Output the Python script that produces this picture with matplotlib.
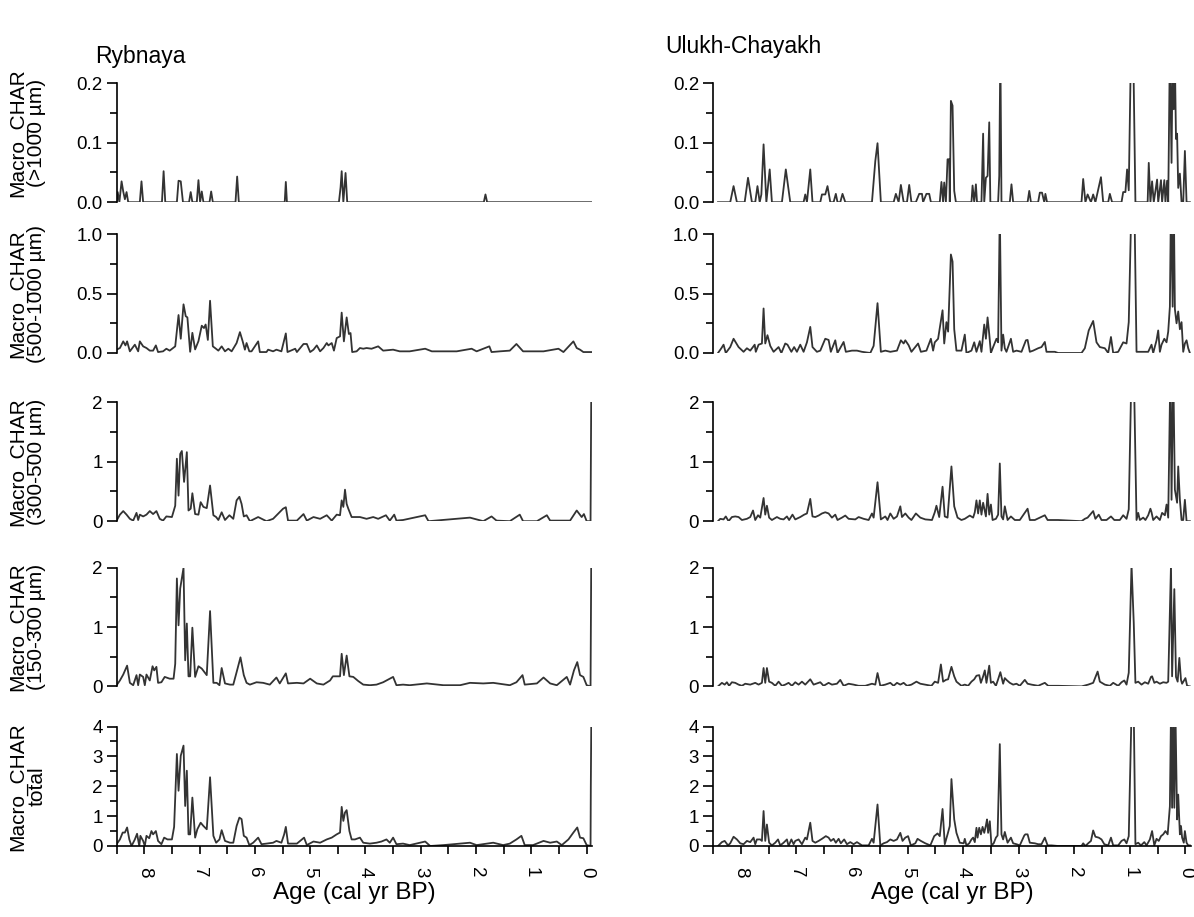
# Macro charcoal accumulation records, Rybnaya and Ulukh-Chayakh

import matplotlib
matplotlib.use('Agg')
import matplotlib.pyplot as plt
from matplotlib.ticker import MultipleLocator, FormatStrFormatter

plt.rcParams['font.family'] = ['Liberation Sans', 'DejaVu Sans']

# ---------------- Rybnaya ----------------
ryb_1000_age = [8.50, 8.48, 8.45, 8.41, 8.38, 8.35, 8.32, 8.29, 8.08, 8.05, 8.02, 7.68, 7.65, 7.62,
                7.41, 7.38, 7.34, 7.30, 7.19, 7.16, 7.13, 7.05, 7.02, 6.99, 6.96, 6.93, 6.82, 6.79,
                6.76, 6.35, 6.32, 6.29, 5.46, 5.44, 5.42, 4.48, 4.45, 4.43, 4.40, 4.36, 4.33,
                1.86, 1.83, 1.80, -0.08]
ryb_1000_val = [0, 0.017, 0, 0.035, 0.018, 0.005, 0.017, 0, 0, 0.035, 0, 0, 0.052, 0,
                0, 0.036, 0.035, 0, 0, 0.017, 0, 0, 0.037, 0, 0.018, 0, 0, 0.018,
                0, 0, 0.043, 0, 0, 0.034, 0, 0, 0.025, 0.052, 0, 0.049, 0,
                0, 0.013, 0, 0]

ryb_500_age = [8.50, 8.44, 8.38, 8.34, 8.31, 8.26, 8.17, 8.11, 8.08, 8.02, 7.96, 7.90, 7.84, 7.79,
               7.75, 7.66, 7.60, 7.54, 7.44, 7.38, 7.34, 7.29, 7.25, 7.22, 7.17, 7.13, 7.08, 7.02,
               6.96, 6.92, 6.89, 6.85, 6.81, 6.76, 6.72, 6.66, 6.60, 6.54, 6.48, 6.42, 6.33, 6.27,
               6.22, 6.18, 6.15, 6.10, 6.06, 5.94, 5.91, 5.79, 5.76, 5.67, 5.61, 5.52, 5.44, 5.41,
               5.27, 5.24, 5.12, 5.06, 5.00, 4.94, 4.88, 4.82, 4.76, 4.70, 4.67, 4.61, 4.57, 4.52,
               4.46, 4.43, 4.39, 4.34, 4.30, 4.27, 4.24, 4.16, 4.10, 4.04, 3.98, 3.89, 3.77, 3.68,
               3.50, 3.38, 3.20, 2.92, 2.80, 2.35, 2.08, 1.99, 1.76, 1.72, 1.57, 1.39, 1.27, 1.15,
               0.93, 0.78, 0.51, 0.42, 0.24, 0.18, 0.12, 0.06, -0.08]
ryb_500_val = [0.028, 0.042, 0.098, 0.064, 0.098, 0.014, 0.070, 0.014, 0.098, 0.056, 0.042, 0.020, 0.020, 0.064,
               0.008, 0.014, 0.036, 0.020, 0.056, 0.32, 0.12, 0.41, 0.31, 0.30, 0.01, 0.17, 0.03, 0.10,
               0.23, 0.21, 0.24, 0.11, 0.44, 0.056, 0.042, 0.020, 0.056, 0.014, 0.036, 0.014, 0.084, 0.176,
               0.098, 0.028, 0.084, 0.014, 0.014, 0.098, 0.008, 0.008, 0.028, 0.014, 0.028, 0.014, 0.165, 0.008,
               0.036, 0.008, 0.076, 0.076, 0.008, 0.028, 0.064, 0.014, 0.042, 0.084, 0.064, 0.084, 0.020, 0.126,
               0.140, 0.34, 0.098, 0.30, 0.160, 0.168, 0.008, 0.014, 0.042, 0.036, 0.042, 0.036, 0.056, 0.020,
               0.028, 0.014, 0.014, 0.036, 0.014, 0.014, 0.036, 0.014, 0.056, 0.008, 0.014, 0.020, 0.076, 0.014,
               0.014, 0.014, 0.036, 0.008, 0.098, 0.042, 0.028, 0.008, 0.008]

ryb_300_age = [8.50, 8.44, 8.38, 8.32, 8.26, 8.20, 8.14, 8.11, 8.08, 8.02, 7.96, 7.90, 7.84, 7.78,
               7.72, 7.66, 7.60, 7.50, 7.44, 7.41, 7.38, 7.35, 7.32, 7.28, 7.23, 7.20, 7.16, 7.13,
               7.08, 7.02, 6.98, 6.93, 6.87, 6.81, 6.75, 6.70, 6.66, 6.60, 6.54, 6.46, 6.39, 6.33,
               6.28, 6.24, 6.20, 6.15, 6.09, 5.94, 5.79, 5.67, 5.49, 5.44, 5.40, 5.24, 5.12, 5.06,
               4.94, 4.82, 4.70, 4.61, 4.52, 4.46, 4.43, 4.40, 4.37, 4.34, 4.31, 4.25, 4.10, 3.98,
               3.86, 3.77, 3.63, 3.56, 3.48, 3.44, 3.32, 2.92, 2.86, 2.11, 1.87, 1.72, 1.63, 1.39,
               1.21, 1.15, 0.90, 0.72, 0.66, 0.30, 0.18, 0.09, 0.05, 0.00, -0.07, -0.085]
ryb_300_val = [0.01, 0.11, 0.17, 0.11, 0.04, 0.01, 0.14, 0.02, 0.11, 0.08, 0.11, 0.17, 0.12, 0.17,
               0.04, 0.01, 0.08, 0.07, 0.26, 1.05, 0.43, 1.13, 1.18, 0.66, 1.16, 0.18, 0.21, 0.47,
               0.12, 0.11, 0.32, 0.24, 0.22, 0.60, 0.10, 0.07, 0.02, 0.15, 0.02, 0.10, 0.04, 0.35,
               0.41, 0.29, 0.08, 0.10, 0.00, 0.07, 0.00, 0.04, 0.21, 0.235, 0.01, 0.01, 0.12, 0.01,
               0.07, 0.04, 0.10, 0.01, 0.11, 0.10, 0.35, 0.24, 0.53, 0.29, 0.21, 0.07, 0.07, 0.04,
               0.07, 0.04, 0.10, 0.01, 0.11, 0.01, 0.02, 0.10, 0.00, 0.06, 0.00, 0.08, 0.01, 0.00,
               0.11, 0.00, 0.00, 0.10, 0.01, 0.01, 0.18, 0.07, 0.12, 0.00, 0.00, 2.5]

ryb_150_age = [8.50, 8.44, 8.38, 8.31, 8.26, 8.20, 8.14, 8.11, 8.08, 8.02, 7.99, 7.96, 7.90, 7.85,
               7.82, 7.78, 7.75, 7.69, 7.63, 7.54, 7.47, 7.44, 7.41, 7.38, 7.35, 7.29, 7.26, 7.23,
               7.20, 7.17, 7.13, 7.08, 7.02, 6.96, 6.87, 6.81, 6.75, 6.69, 6.64, 6.60, 6.54, 6.45,
               6.39, 6.33, 6.26, 6.20, 6.15, 6.09, 5.97, 5.85, 5.73, 5.61, 5.55, 5.44, 5.40, 5.24,
               5.12, 5.00, 4.88, 4.76, 4.64, 4.59, 4.52, 4.46, 4.43, 4.39, 4.34, 4.29, 4.22, 4.13,
               4.04, 3.92, 3.80, 3.68, 3.50, 3.44, 3.32, 3.20, 2.89, 2.59, 2.29, 2.11, 1.87, 1.69,
               1.39, 1.27, 1.16, 1.12, 0.90, 0.78, 0.66, 0.54, 0.36, 0.30, 0.23, 0.17, 0.12, 0.06,
               0.00, -0.07, -0.085]
ryb_150_val = [0.02, 0.10, 0.20, 0.35, 0.06, 0.02, 0.19, 0.02, 0.20, 0.16, 0.02, 0.20, 0.10, 0.34,
               0.27, 0.33, 0.06, 0.07, 0.16, 0.13, 0.13, 0.38, 1.82, 1.03, 1.65, 2.00, 0.44, 1.06,
               0.17, 0.17, 0.99, 0.16, 0.34, 0.30, 0.19, 1.27, 0.06, 0.06, 0.02, 0.31, 0.05, 0.03,
               0.03, 0.24, 0.49, 0.19, 0.06, 0.03, 0.07, 0.06, 0.03, 0.15, 0.05, 0.22, 0.05, 0.06,
               0.05, 0.13, 0.05, 0.03, 0.10, 0.17, 0.17, 0.17, 0.55, 0.19, 0.52, 0.17, 0.16, 0.09,
               0.03, 0.02, 0.03, 0.07, 0.16, 0.02, 0.03, 0.02, 0.05, 0.02, 0.02, 0.06, 0.05, 0.06,
               0.02, 0.07, 0.19, 0.03, 0.05, 0.15, 0.05, 0.02, 0.16, 0.03, 0.27, 0.41, 0.19, 0.16,
               0.02, 0.00, 2.5]

ryb_tot_age = [8.50, 8.44, 8.39, 8.35, 8.31, 8.27, 8.23, 8.17, 8.13, 8.09, 8.07, 8.02, 7.99, 7.96,
               7.91, 7.87, 7.84, 7.79, 7.75, 7.69, 7.64, 7.58, 7.50, 7.46, 7.41, 7.38, 7.34, 7.29,
               7.26, 7.23, 7.20, 7.17, 7.13, 7.08, 7.04, 6.98, 6.93, 6.87, 6.81, 6.75, 6.70, 6.64,
               6.60, 6.54, 6.45, 6.39, 6.33, 6.28, 6.24, 6.20, 6.15, 6.10, 6.03, 5.94, 5.88, 5.79,
               5.67, 5.61, 5.52, 5.47, 5.44, 5.40, 5.24, 5.11, 5.06, 4.94, 4.82, 4.70, 4.61, 4.52,
               4.46, 4.43, 4.40, 4.37, 4.34, 4.29, 4.25, 4.19, 4.10, 4.04, 3.92, 3.80, 3.71, 3.62,
               3.56, 3.50, 3.44, 3.32, 3.20, 2.92, 2.83, 2.59, 2.11, 1.99, 1.69, 1.51, 1.39, 1.27,
               1.18, 1.12, 0.97, 0.78, 0.66, 0.54, 0.45, 0.33, 0.24, 0.17, 0.12, 0.06, 0.00, -0.07,
               -0.075, -0.085]
ryb_tot_val = [0.06, 0.22, 0.45, 0.45, 0.62, 0.22, 0.00, 0.22, 0.41, 0.00, 0.34, 0.17, 0.00, 0.34,
               0.26, 0.50, 0.39, 0.50, 0.17, 0.06, 0.28, 0.22, 0.22, 0.64, 3.08, 1.85, 3.02, 3.36,
               1.34, 2.52, 0.39, 0.39, 1.62, 0.28, 0.56, 0.78, 0.67, 0.56, 2.30, 0.34, 0.11, 0.22,
               0.53, 0.17, 0.11, 0.11, 0.67, 0.95, 0.90, 0.34, 0.28, 0.03, 0.11, 0.28, 0.06, 0.08,
               0.11, 0.17, 0.11, 0.39, 0.64, 0.08, 0.08, 0.28, 0.03, 0.15, 0.11, 0.22, 0.28, 0.39,
               0.45, 1.31, 0.84, 1.12, 1.20, 0.50, 0.22, 0.22, 0.28, 0.11, 0.08, 0.11, 0.15, 0.22,
               0.11, 0.28, 0.06, 0.08, 0.03, 0.15, 0.00, 0.03, 0.11, 0.03, 0.11, 0.03, 0.08, 0.22,
               0.34, 0.03, 0.03, 0.17, 0.11, 0.15, 0.03, 0.22, 0.45, 0.62, 0.28, 0.26, 0.03, 0.00,
               2.0, 4.5]

# ---------------- Ulukh-Chayakh ----------------
ulu_1000_age = [8.41, 8.19, 8.13, 8.07, 7.93, 7.87, 7.80, 7.74, 7.70, 7.66, 7.63, 7.59, 7.54, 7.48,
                7.44, 7.26, 7.19, 7.11, 6.87, 6.84, 6.81, 6.75, 6.71, 6.57, 6.54, 6.48, 6.44, 6.39,
                6.33, 6.29, 6.26, 6.21, 6.17, 6.12, 5.64, 5.58, 5.54, 5.48, 5.25, 5.21, 5.16, 5.12,
                5.07, 5.01, 4.97, 4.93, 4.85, 4.79, 4.74, 4.72, 4.66, 4.61, 4.58, 4.42, 4.39, 4.36,
                4.34, 4.31, 4.28, 4.25, 4.24, 4.22, 4.19, 4.16, 4.13, 3.85, 3.83, 3.80, 3.77, 3.75,
                3.67, 3.64, 3.62, 3.59, 3.56, 3.53, 3.51, 3.37, 3.35, 3.33, 3.31, 3.16, 3.13, 3.10,
                2.84, 2.81, 2.78, 2.65, 2.62, 2.58, 2.54, 2.52, 2.49, 1.87, 1.84, 1.80, 1.76, 1.70,
                1.66, 1.62, 1.52, 1.48, 1.39, 1.36, 1.32, 1.15, 1.12, 1.08, 1.05, 1.02, 0.98, 0.94,
                0.90, 0.68, 0.66, 0.63, 0.60, 0.57, 0.51, 0.49, 0.44, 0.42, 0.38, 0.36, 0.33, 0.31,
                0.28, 0.25, 0.23, 0.21, 0.19, 0.17, 0.15, 0.13, 0.10, 0.07, 0.04, 0.01, -0.02, -0.08]
ulu_1000_val = [0, 0, 0.027, 0, 0, 0.041, 0, 0, 0.027, 0, 0.013, 0.097, 0, 0.055,
                0, 0, 0.055, 0, 0, 0.013, 0, 0.055, 0, 0, 0.013, 0.013, 0.027, 0,
                0, 0.014, 0, 0, 0.014, 0, 0, 0.069, 0.099, 0, 0, 0.014, 0, 0.029,
                0, 0, 0.029, 0, 0, 0.014, 0.014, 0, 0.014, 0.014, 0, 0, 0.034, 0,
                0.033, 0, 0.072, 0.072, 0, 0.17, 0.162, 0.019, 0, 0, 0.028, 0, 0.03, 0,
                0, 0.115, 0, 0.041, 0.044, 0.134, 0, 0, 0.044, 0.26, 0, 0, 0.03, 0,
                0, 0.019, 0, 0, 0.016, 0.016, 0, 0.014, 0, 0, 0.039, 0, 0.013, 0,
                0.013, 0, 0.042, 0, 0, 0.014, 0, 0, 0.017, 0.017, 0.055, 0.02, 0.26, 0.26,
                0, 0, 0.066, 0, 0.035, 0, 0.038, 0, 0.037, 0, 0.037, 0, 0.036, 0,
                0.26, 0.066, 0.26, 0.156, 0.24, 0.106, 0.115, 0.024, 0.048, 0, 0, 0.086, 0, 0]

ulu_500_age = [8.41, 8.35, 8.31, 8.27, 8.19, 8.13, 8.04, 7.95, 7.89, 7.83, 7.75, 7.73, 7.68, 7.62,
               7.59, 7.56, 7.52, 7.47, 7.41, 7.32, 7.27, 7.20, 7.16, 7.09, 7.04, 6.99, 6.93, 6.87,
               6.81, 6.75, 6.71, 6.63, 6.57, 6.48, 6.42, 6.38, 6.30, 6.26, 6.15, 6.11, 6.00, 5.91,
               5.82, 5.67, 5.61, 5.54, 5.48, 5.40, 5.31, 5.19, 5.12, 5.07, 5.04, 4.98, 4.93, 4.81,
               4.76, 4.66, 4.58, 4.54, 4.51, 4.45, 4.37, 4.34, 4.30, 4.27, 4.22, 4.19, 4.16, 4.12,
               4.03, 3.97, 3.94, 3.85, 3.80, 3.76, 3.70, 3.67, 3.62, 3.59, 3.56, 3.53, 3.50, 3.46,
               3.40, 3.37, 3.34, 3.31, 3.28, 3.25, 3.22, 3.14, 3.10, 3.04, 2.95, 2.87, 2.84, 2.80,
               2.74, 2.65, 2.59, 2.53, 2.50, 2.35, 2.29, 1.87, 1.81, 1.74, 1.66, 1.60, 1.54, 1.45,
               1.39, 1.34, 1.30, 1.21, 1.12, 1.06, 1.02, 0.97, 0.92, 0.88, 0.79, 0.67, 0.61, 0.58,
               0.52, 0.49, 0.46, 0.43, 0.38, 0.34, 0.31, 0.28, 0.26, 0.23, 0.21, 0.19, 0.16, 0.13,
               0.10, 0.07, 0.04, 0.01, -0.02, -0.05, -0.08]
ulu_500_val = [0.00, 0.04, 0.07, 0.00, 0.05, 0.12, 0.05, 0.01, 0.04, 0.02, 0.07, 0.01, 0.07, 0.08,
               0.375, 0.08, 0.15, 0.06, 0.01, 0.05, 0.00, 0.08, 0.07, 0.01, 0.05, 0.01, 0.07, 0.01,
               0.09, 0.22, 0.05, 0.01, 0.02, 0.12, 0.11, 0.01, 0.107, 0.00, 0.093, 0.01, 0.02, 0.02,
               0.01, 0.00, 0.06, 0.42, 0.01, 0.02, 0.01, 0.02, 0.107, 0.08, 0.107, 0.065, 0.01, 0.08,
               0.01, 0.02, 0.12, 0.02, 0.09, 0.12, 0.36, 0.08, 0.26, 0.18, 0.83, 0.77, 0.20, 0.02,
               0.02, 0.155, 0.00, 0.02, 0.09, 0.01, 0.10, 0.01, 0.24, 0.12, 0.30, 0.16, 0.00, 0.05,
               0.12, 0.09, 1.2, 0.02, 0.155, 0.04, 0.01, 0.12, 0.01, 0.02, 0.01, 0.107, 0.11, 0.01,
               0.02, 0.04, 0.05, 0.093, 0.01, 0.01, 0.00, 0.00, 0.04, 0.19, 0.27, 0.09, 0.05, 0.04,
               0.00, 0.135, 0.00, 0.01, 0.09, 0.08, 0.26, 1.3, 1.3, 0.01, 0.01, 0.01, 0.07, 0.00,
               0.107, 0.19, 0.01, 0.07, 0.12, 0.09, 0.18, 0.39, 1.3, 0.39, 1.3, 0.37, 0.25, 0.35,
               0.20, 0.26, 0.01, 0.08, 0.107, 0.04, 0.00]

ulu_300_age = [8.41, 8.37, 8.31, 8.27, 8.22, 8.16, 8.10, 8.04, 7.98, 7.89, 7.83, 7.78, 7.74, 7.69,
               7.65, 7.59, 7.56, 7.53, 7.49, 7.44, 7.35, 7.29, 7.23, 7.17, 7.13, 7.07, 7.02, 6.93,
               6.86, 6.81, 6.75, 6.71, 6.66, 6.60, 6.54, 6.48, 6.42, 6.36, 6.30, 6.26, 6.18, 6.12,
               6.06, 5.94, 5.88, 5.79, 5.70, 5.64, 5.61, 5.54, 5.48, 5.40, 5.36, 5.31, 5.25, 5.19,
               5.13, 5.10, 5.04, 4.98, 4.93, 4.85, 4.77, 4.68, 4.56, 4.51, 4.48, 4.43, 4.37, 4.33,
               4.28, 4.21, 4.16, 4.10, 4.03, 3.97, 3.88, 3.82, 3.79, 3.76, 3.73, 3.70, 3.67, 3.64,
               3.59, 3.56, 3.53, 3.50, 3.47, 3.41, 3.37, 3.34, 3.31, 3.28, 3.25, 3.20, 3.14, 3.07,
               2.98, 2.90, 2.84, 2.80, 2.71, 2.53, 2.48, 2.29, 1.87, 1.81, 1.76, 1.66, 1.62, 1.56,
               1.51, 1.42, 1.34, 1.28, 1.18, 1.12, 1.06, 1.02, 0.97, 0.93, 0.88, 0.85, 0.82, 0.76,
               0.72, 0.67, 0.63, 0.61, 0.58, 0.52, 0.46, 0.42, 0.37, 0.34, 0.31, 0.27, 0.25, 0.22,
               0.19, 0.15, 0.13, 0.10, 0.07, 0.04, 0.01, -0.02, -0.08]
ulu_300_val = [0.00, 0.04, 0.03, 0.08, 0.00, 0.07, 0.08, 0.07, 0.02, 0.04, 0.07, 0.18, 0.02, 0.10,
               0.06, 0.39, 0.11, 0.26, 0.06, 0.02, 0.07, 0.04, 0.03, 0.08, 0.02, 0.11, 0.03, 0.07,
               0.11, 0.13, 0.375, 0.08, 0.07, 0.095, 0.13, 0.15, 0.13, 0.06, 0.11, 0.02, 0.06, 0.095,
               0.04, 0.03, 0.07, 0.04, 0.02, 0.13, 0.06, 0.655, 0.03, 0.08, 0.02, 0.13, 0.04, 0.08,
               0.25, 0.07, 0.13, 0.06, 0.02, 0.13, 0.06, 0.03, 0.02, 0.15, 0.26, 0.07, 0.58, 0.08,
               0.06, 0.92, 0.25, 0.06, 0.02, 0.04, 0.095, 0.06, 0.15, 0.35, 0.13, 0.35, 0.11, 0.31,
               0.08, 0.46, 0.11, 0.28, 0.02, 0.04, 0.11, 0.97, 0.08, 0.03, 0.25, 0.02, 0.08, 0.02,
               0.02, 0.13, 0.21, 0.02, 0.02, 0.10, 0.02, 0.02, 0.00, 0.04, 0.06, 0.17, 0.04, 0.11,
               0.02, 0.02, 0.08, 0.02, 0.02, 0.10, 0.04, 0.20, 2.6, 2.6, 0.02, 0.14, 0.02, 0.06,
               0.02, 0.10, 0.21, 0.15, 0.02, 0.08, 0.02, 0.14, 0.10, 0.28, 0.06, 2.6, 0.36, 2.6,
               0.53, 0.31, 0.92, 0.36, 0.02, 0.02, 0.36, 0.00, 0.00]

ulu_150_age = [8.41, 8.34, 8.29, 8.25, 8.21, 8.16, 8.10, 8.04, 7.98, 7.92, 7.83, 7.74, 7.68, 7.62,
               7.59, 7.56, 7.53, 7.49, 7.44, 7.38, 7.32, 7.26, 7.20, 7.14, 7.08, 7.02, 6.96, 6.90,
               6.84, 6.75, 6.69, 6.57, 6.51, 6.42, 6.36, 6.27, 6.21, 6.15, 6.06, 5.97, 5.88, 5.76,
               5.64, 5.58, 5.54, 5.49, 5.40, 5.31, 5.25, 5.19, 5.13, 5.07, 5.01, 4.93, 4.84, 4.77,
               4.68, 4.57, 4.51, 4.45, 4.40, 4.36, 4.31, 4.27, 4.21, 4.16, 4.12, 4.03, 3.97, 3.91,
               3.85, 3.80, 3.76, 3.71, 3.68, 3.64, 3.61, 3.58, 3.53, 3.50, 3.46, 3.41, 3.37, 3.33,
               3.31, 3.28, 3.25, 3.22, 3.16, 3.10, 3.04, 2.98, 2.89, 2.84, 2.77, 2.65, 2.53, 2.47,
               2.29, 1.87, 1.75, 1.66, 1.58, 1.54, 1.45, 1.36, 1.30, 1.21, 1.15, 1.10, 1.06, 1.02,
               0.97, 0.93, 0.90, 0.85, 0.79, 0.73, 0.67, 0.62, 0.60, 0.56, 0.52, 0.46, 0.40, 0.34,
               0.31, 0.26, 0.24, 0.20, 0.17, 0.14, 0.11, 0.08, 0.06, 0.02, 0.00, -0.03, -0.08]
ulu_150_val = [0.00, 0.06, 0.03, 0.07, 0.01, 0.07, 0.06, 0.03, 0.01, 0.045, 0.03, 0.06, 0.03, 0.06,
               0.31, 0.06, 0.31, 0.08, 0.06, 0.01, 0.08, 0.01, 0.03, 0.06, 0.01, 0.07, 0.03, 0.08,
               0.03, 0.12, 0.03, 0.07, 0.01, 0.06, 0.03, 0.045, 0.11, 0.01, 0.045, 0.03, 0.01, 0.01,
               0.045, 0.03, 0.225, 0.01, 0.03, 0.06, 0.01, 0.06, 0.03, 0.06, 0.01, 0.03, 0.08, 0.045,
               0.03, 0.01, 0.08, 0.06, 0.37, 0.08, 0.11, 0.12, 0.33, 0.17, 0.08, 0.01, 0.03, 0.01,
               0.08, 0.12, 0.18, 0.19, 0.06, 0.17, 0.27, 0.06, 0.35, 0.06, 0.08, 0.01, 0.12, 0.24,
               0.16, 0.045, 0.14, 0.11, 0.06, 0.03, 0.045, 0.01, 0.11, 0.045, 0.03, 0.01, 0.06, 0.01,
               0.01, 0.00, 0.03, 0.06, 0.25, 0.08, 0.03, 0.01, 0.06, 0.01, 0.07, 0.10, 0.03, 0.23,
               2.05, 1.07, 0.06, 0.08, 0.03, 0.07, 0.045, 0.16, 0.17, 0.06, 0.08, 0.045, 0.07, 0.06,
               0.08, 2.05, 0.17, 1.64, 0.16, 0.08, 0.48, 0.11, 0.045, 0.11, 0.14, 0.01, 0.00]

ulu_tot_age = [8.41, 8.34, 8.29, 8.23, 8.19, 8.13, 8.07, 8.01, 7.95, 7.89, 7.83, 7.77, 7.74, 7.71,
               7.65, 7.62, 7.59, 7.56, 7.53, 7.49, 7.44, 7.38, 7.33, 7.29, 7.23, 7.17, 7.14, 7.09,
               7.05, 7.02, 6.96, 6.90, 6.84, 6.81, 6.75, 6.71, 6.66, 6.60, 6.54, 6.47, 6.42, 6.38,
               6.33, 6.29, 6.24, 6.20, 6.14, 6.09, 6.03, 5.97, 5.91, 5.82, 5.70, 5.64, 5.61, 5.54,
               5.49, 5.43, 5.37, 5.31, 5.25, 5.19, 5.13, 5.09, 5.04, 4.99, 4.94, 4.86, 4.82, 4.76,
               4.68, 4.59, 4.52, 4.46, 4.42, 4.37, 4.33, 4.28, 4.24, 4.21, 4.16, 4.12, 4.06, 3.99,
               3.97, 3.94, 3.89, 3.85, 3.82, 3.79, 3.76, 3.74, 3.71, 3.68, 3.65, 3.62, 3.59, 3.57,
               3.55, 3.52, 3.49, 3.45, 3.41, 3.38, 3.34, 3.31, 3.28, 3.25, 3.20, 3.14, 3.10, 3.04,
               2.98, 2.90, 2.88, 2.84, 2.80, 2.71, 2.65, 2.59, 2.53, 2.48, 2.41, 2.29, 1.87, 1.84,
               1.80, 1.75, 1.70, 1.66, 1.62, 1.56, 1.51, 1.46, 1.39, 1.34, 1.30, 1.21, 1.15, 1.10,
               1.06, 1.02, 0.97, 0.93, 0.90, 0.85, 0.80, 0.74, 0.70, 0.64, 0.60, 0.56, 0.52, 0.48,
               0.44, 0.40, 0.36, 0.32, 0.28, 0.26, 0.24, 0.22, 0.20, 0.18, 0.15, 0.13, 0.10, 0.08,
               0.06, 0.03, 0.01, -0.02, -0.05, -0.08]
ulu_tot_val = [0.00, 0.13, 0.17, 0.02, 0.09, 0.31, 0.22, 0.09, 0.06, 0.17, 0.13, 0.28, 0.06, 0.22,
               0.22, 0.17, 1.17, 0.17, 0.72, 0.11, 0.02, 0.11, 0.22, 0.02, 0.11, 0.22, 0.00, 0.22,
               0.06, 0.17, 0.22, 0.06, 0.28, 0.22, 0.78, 0.17, 0.11, 0.17, 0.24, 0.33, 0.28, 0.17,
               0.24, 0.11, 0.24, 0.09, 0.22, 0.06, 0.13, 0.06, 0.13, 0.02, 0.02, 0.24, 0.11, 1.39,
               0.02, 0.09, 0.13, 0.22, 0.17, 0.22, 0.44, 0.17, 0.28, 0.33, 0.02, 0.09, 0.24, 0.17,
               0.09, 0.02, 0.33, 0.42, 0.33, 1.24, 0.06, 0.39, 0.67, 2.24, 0.89, 0.44, 0.11, 0.09,
               0.24, 0.02, 0.09, 0.22, 0.28, 0.13, 0.61, 0.28, 0.61, 0.39, 0.64, 0.44, 0.69, 0.89,
               0.44, 0.83, 0.02, 0.09, 0.28, 0.35, 3.41, 0.39, 0.22, 0.47, 0.11, 0.28, 0.09, 0.06,
               0.02, 0.35, 0.39, 0.39, 0.11, 0.09, 0.06, 0.06, 0.28, 0.02, 0.02, 0.00, 0.00, 0.09,
               0.00, 0.09, 0.17, 0.52, 0.31, 0.28, 0.22, 0.06, 0.02, 0.28, 0.02, 0.02, 0.17, 0.22,
               0.09, 0.33, 4.5, 4.5, 0.06, 0.11, 0.02, 0.13, 0.02, 0.22, 0.50, 0.02, 0.24, 0.17,
               0.33, 0.39, 0.50, 0.39, 1.33, 4.5, 1.28, 4.5, 1.28, 4.5, 0.89, 1.72, 0.39, 0.67,
               0.28, 0.11, 0.50, 0.11, 0.02, 0.02]

ylabels = ['Macro_CHAR\n(>1000 µm)', 'Macro_CHAR\n(500-1000 µm)', 'Macro_CHAR\n(300-500 µm)',
           'Macro_CHAR\n(150-300 µm)', 'Macro_CHAR\ntotal']
ymax = [0.2, 1.0, 2, 2, 4]
ymajor = [0.1, 0.5, 1, 1, 1]
yfmt = ['%.1f', '%.1f', '%d', '%d', '%d']

columns = [
    ('Rybnaya', [(ryb_1000_age, ryb_1000_val), (ryb_500_age, ryb_500_val), (ryb_300_age, ryb_300_val),
                 (ryb_150_age, ryb_150_val), (ryb_tot_age, ryb_tot_val)]),
    ('Ulukh-Chayakh', [(ulu_1000_age, ulu_1000_val), (ulu_500_age, ulu_500_val), (ulu_300_age, ulu_300_val),
                       (ulu_150_age, ulu_150_val), (ulu_tot_age, ulu_tot_val)]),
]

# layout in pixels
W, H = 1194, 917
col_left = [116.6, 713.0]
col_width = [475.6, 478.0]
row_top = [83.0, 234.3, 402.2, 567.8, 726.5]
row_bot = [202.2, 353.0, 521.2, 686.4, 846.0]

fig = plt.figure(figsize=(W / 100, H / 100), dpi=100)

for c, (site, series) in enumerate(columns):
    for r, (age, val) in enumerate(series):
        ax = fig.add_axes([col_left[c] / W, 1 - row_bot[r] / H,
                           col_width[c] / W, (row_bot[r] - row_top[r]) / H])
        ax.plot(age, val, color='#333333', lw=1.3)
        ax.set_xlim(8.5, -0.1)
        ax.set_ylim(0, ymax[r])
        for s in ['top', 'right']:
            ax.spines[s].set_visible(False)
        ax.spines['left'].set_linewidth(1.2)
        ax.yaxis.set_major_locator(MultipleLocator(ymajor[r]))
        ax.yaxis.set_minor_locator(MultipleLocator(ymajor[r] / 2))
        ax.yaxis.set_major_formatter(FormatStrFormatter(yfmt[r]))
        ax.tick_params(axis='y', which='major', length=7, width=1.2, labelsize=13.5, pad=3)
        ax.tick_params(axis='y', which='minor', length=5, width=1.2)
        if r < 4:
            ax.spines['bottom'].set_visible(False)
            ax.tick_params(axis='x', which='both', bottom=False, labelbottom=False)
        else:
            ax.spines['bottom'].set_linewidth(1.2)
            ax.xaxis.set_major_locator(MultipleLocator(1))
            ax.xaxis.set_minor_locator(MultipleLocator(0.5))
            ax.tick_params(axis='x', which='major', length=6, width=1.2, labelsize=13.5,
                           labelrotation=-90, pad=9)
            ax.tick_params(axis='x', which='minor', length=6, width=1.2)
        if c == 0:
            ax.set_ylabel(ylabels[r], fontsize=15, linespacing=1.0)
            ax.yaxis.set_label_coords(-0.148, 0.58 if r == 0 else 0.5)

fig.text(95 / W, 1 - 57 / H, 'Rybnaya', fontsize=16.5, va='center', ha='left')
fig.text(665 / W, 1 - 47 / H, 'Ulukh-Chayakh', fontsize=16.5, va='center', ha='left')
fig.text((col_left[0] + col_width[0] / 2) / W, 1 - 893 / H, 'Age (cal yr BP)',
         fontsize=17.5, ha='center', va='center')
fig.text((col_left[1] + col_width[1] / 2) / W, 1 - 893 / H, 'Age (cal yr BP)',
         fontsize=17.5, ha='center', va='center')

fig.savefig('out.png', dpi=100)
